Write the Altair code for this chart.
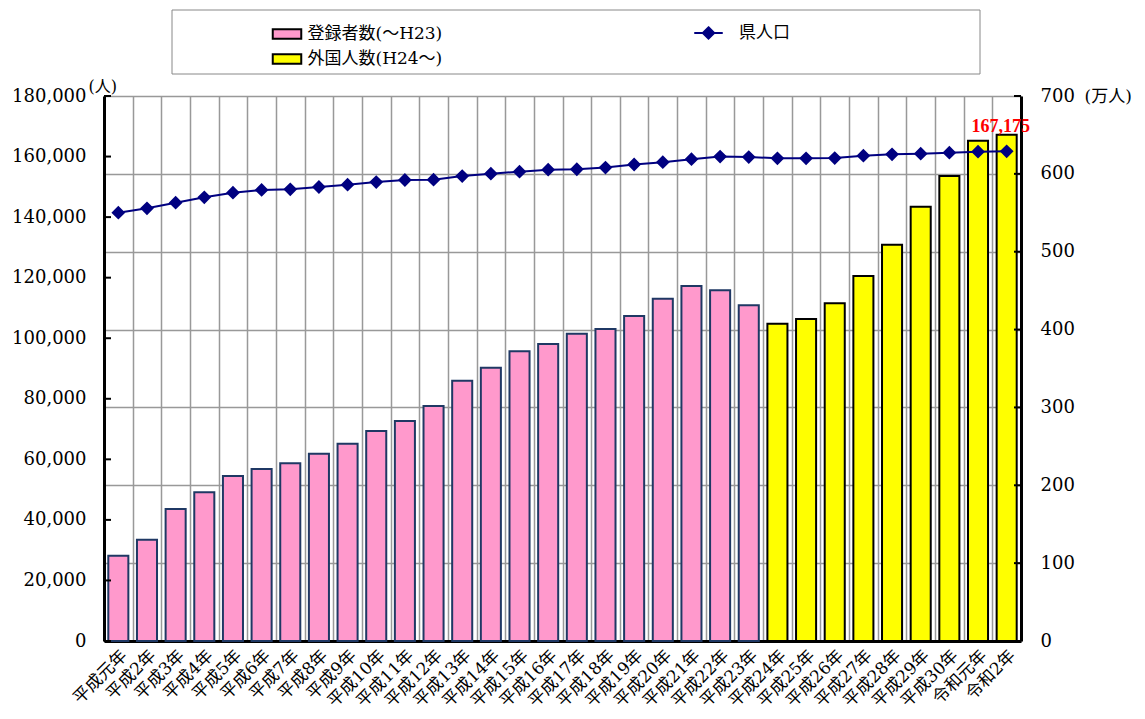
import altair as alt
import pandas as pd

categories = [
    "平成元年", "平成2年", "平成3年", "平成4年", "平成5年", "平成6年", "平成7年", "平成8年",
    "平成9年", "平成10年", "平成11年", "平成12年", "平成13年", "平成14年", "平成15年", "平成16年",
    "平成17年", "平成18年", "平成19年", "平成20年", "平成21年", "平成22年", "平成23年", "平成24年",
    "平成25年", "平成26年", "平成27年", "平成28年", "平成29年", "平成30年", "令和元年", "令和2年",
]
registered = [28170, 33460, 43600, 49100, 54500, 56800, 58690, 61860, 65170, 69360, 72660, 77600,
              85970, 90270, 95680, 98090, 101500, 103050, 107340, 113060, 117250, 115830, 110870]
foreign = [104800, 106350, 111530, 120550, 130900, 143440, 153580, 165240, 167175]
population = [550.1, 555.8, 563.0, 569.9, 575.8, 579.3, 580.2, 583.1, 586.1, 589.5, 592.1, 592.5,
              597.2, 600.2, 602.8, 605.3, 605.9, 608.1, 612.0, 615.0, 618.8, 622.2, 621.6, 620.0,
              620.0, 620.3, 623.3, 625.1, 625.9, 627.2, 628.5, 629.0]
bar_series = ["登録者数(～H23)", "外国人数(H24～)"]
line_series = "県人口"
left_ticks = list(range(0, 180001, 20000))
right_ticks = list(range(0, 701, 100))

rows = []
for i, c in enumerate(categories):
    if i < len(registered):
        v, s = registered[i], bar_series[0]
    else:
        v, s = foreign[i - len(registered)], bar_series[1]
    rows.append({"cat": c, "value": v, "series": s, "pop": population[i], "line": line_series})
df = pd.DataFrame(rows)
last = df.tail(1)

FONT = "DejaVu Serif, Noto Sans CJK JP"
NAVY = "#000080"
GRID = "#999999"

x_axis = alt.Axis(title=None, labelAngle=-45, labelFontSize=17, labelFont=FONT, labelColor="black",
                  ticks=False, grid=True, tickBand="extent", gridColor=GRID, gridWidth=1.5,
                  domainColor="black", domainWidth=3, labelPadding=6)
x_main = alt.X("cat:N", sort=categories, scale=alt.Scale(paddingInner=0, paddingOuter=0), axis=x_axis)

left_scale = alt.Scale(domain=[0, 180000], nice=False)
right_scale = alt.Scale(domain=[0, 700], nice=False)

bars = alt.Chart(df).mark_bar(width=alt.RelativeBandSize(0.7), strokeWidth=2).encode(
    x=x_main,
    y=alt.Y("value:Q", scale=left_scale, axis=alt.Axis(
        title="(人)", values=left_ticks, labelExpr="format(datum.value, ',')", grid=False, ticks=False,
        labelFont=FONT, labelFontSize=18, labelColor="black", labelPadding=18,
        domainColor="black", domainWidth=3, orient="left",
        titleAngle=0, titleX=-16, titleY=-2, titleAlign="left", titleBaseline="bottom",
        titleFont=FONT, titleFontSize=16, titleFontWeight="normal", titleColor="black")),
    fill=alt.Fill("series:N", scale=alt.Scale(domain=bar_series, range=["#FF99CC", "#FFFF00"]),
                  legend=alt.Legend(title=None, orient="none", legendX=172.5, legendY=-72.5,
                                    symbolType="M-1.5,-0.5H1.5V0.5H-1.5Z", symbolSize=361,
                                    symbolStrokeColor="black", symbolStrokeWidth=2, symbolOpacity=1,
                                    labelFont=FONT, labelFontSize=17, labelColor="black",
                                    labelOffset=10, rowPadding=5, padding=0)),
    stroke=alt.condition(alt.datum.series == bar_series[0], alt.value("#1F3864"), alt.value("black")),
)

line = alt.Chart(df).mark_line(strokeWidth=2, point=alt.OverlayMarkDef(shape="diamond", size=120, filled=True, color=NAVY)).encode(
    x=x_main,
    y=alt.Y("pop:Q", scale=right_scale, axis=alt.Axis(
        orient="right", values=right_ticks, grid=True, gridColor=GRID, gridWidth=1.5, ticks=False,
        labelFont=FONT, labelFontSize=18, labelColor="black", labelPadding=19,
        domainColor="black", domainWidth=3,
        title="(万人)", titleAngle=0, titleX=63, titleY=0, titleAlign="left", titleBaseline="middle",
        titleFont=FONT, titleFontSize=17, titleFontWeight="normal", titleColor="black")),
    stroke=alt.Stroke("line:N", scale=alt.Scale(domain=[line_series], range=[NAVY]),
                      legend=alt.Legend(title=None, orient="none", legendX=594, legendY=-73.5,
                                        symbolType="M-1.5,0H1.5M0,-0.6L0.6,0L0,0.6L-0.6,0Z", symbolSize=361,
                                        symbolStrokeWidth=2, symbolFillColor=NAVY, symbolOpacity=1,
                                        labelFont=FONT, labelFontSize=17, labelColor="black",
                                        labelOffset=20, padding=0)),
)

lticks = alt.Chart(pd.DataFrame({"v": left_ticks})).mark_rule(color="black", strokeWidth=2).encode(
    y=alt.Y("v:Q", scale=left_scale, axis=None), x=alt.value(0), x2=alt.value(7))

rticks = alt.Chart(pd.DataFrame({"v": right_ticks})).mark_rule(color="black", strokeWidth=2).encode(
    y=alt.Y("v:Q", scale=right_scale, axis=None), x=alt.value(910), x2=alt.value(917))

label = alt.Chart(last).mark_text(color="red", font="Liberation Serif", fontSize=18, fontWeight="bold",
                                  baseline="alphabetic", align="center", dx=-6, dy=-3).encode(
    x=x_main, y=alt.Y("value:Q", scale=left_scale, axis=None), text=alt.Text("value:Q", format=","))

frame = alt.Chart(pd.DataFrame({"k": [0]})).mark_rect(fill="white", stroke="#888888", strokeWidth=1).encode(
    x=alt.value(68), x2=alt.value(876), y=alt.value(-86), y2=alt.value(-22))

chart = alt.layer(bars, line, lticks, rticks, label, frame).resolve_scale(y="independent").properties(
    width=917, height=545,
    autosize=alt.AutoSizeParams(type="none"),
    padding={"left": 96, "top": 88, "right": 116, "bottom": 70},
    background="white",
).configure_view(strokeWidth=0)

chart.save("out.html", embed_options={"renderer": "svg", "actions": False})
